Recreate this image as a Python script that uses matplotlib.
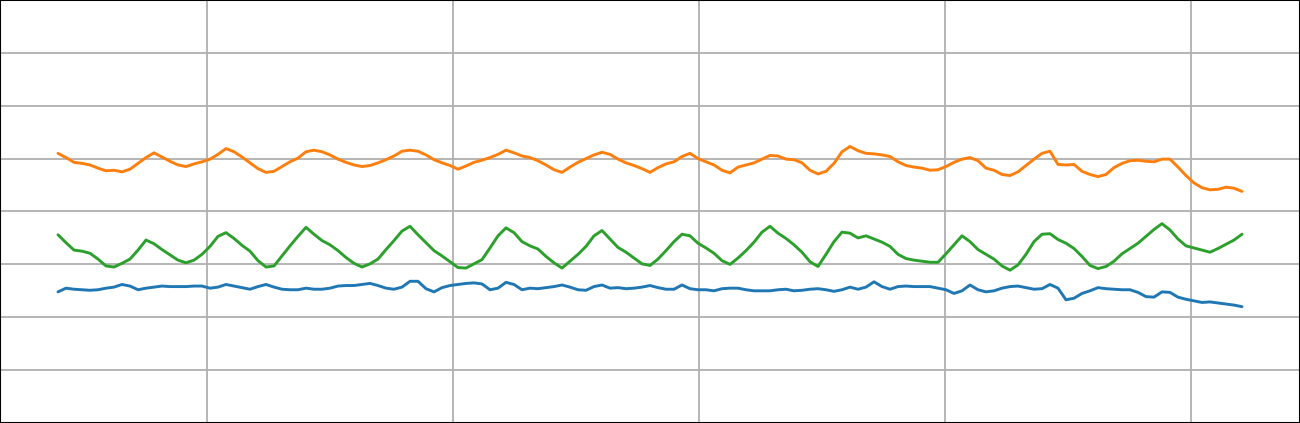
import matplotlib
matplotlib.use("Agg")
import matplotlib.pyplot as plt
import numpy as np

# values, one sample per step
orange = [51.0, 50.2, 49.3, 49.1, 48.8, 48.2, 47.7, 47.8, 47.5, 48.0,
          49.1, 50.2, 51.1, 50.3, 49.5, 48.8, 48.5, 49.0, 49.4, 49.9,
          50.8, 51.9, 51.3, 50.3, 49.2, 48.1, 47.4, 47.6, 48.5, 49.4,
          50.1, 51.3, 51.6, 51.3, 50.7, 49.9, 49.3, 48.8, 48.5, 48.7,
          49.2, 49.8, 50.5, 51.4, 51.6, 51.4, 50.7, 49.8, 49.2, 48.7,
          48.0, 48.6, 49.3, 49.7, 50.2, 50.8, 51.6, 51.1, 50.5, 50.2,
          49.6, 48.8, 47.9, 47.4, 48.4, 49.3, 50.0, 50.7, 51.2, 50.8,
          49.9, 49.2, 48.7, 48.1, 47.4, 48.3, 49.0, 49.4, 50.4, 51.0,
          50.0, 49.4, 48.8, 47.8, 47.3, 48.4, 48.8, 49.2, 49.9, 50.6,
          50.5, 49.9, 49.8, 49.2, 47.8, 47.1, 47.6, 49.1, 51.3, 52.3,
          51.5, 51.0, 50.9, 50.7, 50.4, 49.4, 48.7, 48.4, 48.2, 47.8,
          47.9, 48.5, 49.3, 49.9, 50.2, 49.6, 48.2, 47.8, 47.0, 46.8,
          47.5, 48.7, 49.9, 51.0, 51.4, 48.9, 48.8, 48.9, 47.6, 47.0,
          46.6, 47.0, 48.3, 49.1, 49.6, 49.7, 49.5, 49.4, 49.9, 49.9,
          48.4, 46.8, 45.4, 44.5, 44.1, 44.2, 44.6, 44.4, 43.8]

green = [35.6, 34.1, 32.7, 32.5, 32.1, 31.0, 29.7, 29.5, 30.2, 31.0,
         32.7, 34.6, 33.9, 32.8, 31.8, 30.8, 30.3, 30.8, 31.9, 33.4,
         35.3, 36.0, 34.9, 33.6, 32.5, 30.7, 29.5, 29.7, 31.6, 33.5,
         35.3, 37.0, 35.7, 34.5, 33.7, 32.6, 31.3, 30.2, 29.5, 30.1,
         31.0, 32.8, 34.5, 36.3, 37.2, 35.6, 34.1, 32.6, 31.6, 30.5,
         29.4, 29.3, 30.1, 30.9, 33.1, 35.4, 36.9, 36.0, 34.3, 33.5,
         32.9, 31.5, 30.3, 29.3, 30.6, 31.9, 33.4, 35.4, 36.4, 34.8,
         33.2, 32.3, 31.2, 30.1, 29.8, 31.0, 32.6, 34.3, 35.7, 35.4,
         34.0, 33.1, 32.1, 30.7, 30.0, 31.2, 32.6, 34.2, 36.1, 37.2,
         35.9, 34.9, 33.7, 32.3, 30.5, 29.6, 31.9, 34.3, 36.1, 35.9,
         35.0, 35.4, 34.8, 34.2, 33.4, 31.9, 31.1, 30.8, 30.6, 30.4,
         30.4, 32.0, 33.7, 35.4, 34.3, 32.8, 31.9, 31.0, 29.7, 28.9,
         29.9, 31.9, 34.3, 35.7, 35.8, 34.7, 34.0, 33.0, 31.5, 29.8,
         29.2, 29.6, 30.6, 32.0, 33.0, 34.0, 35.3, 36.6, 37.7, 36.5,
         34.8, 33.5, 33.1, 32.7, 32.3, 33.0, 33.8, 34.6, 35.7]

blue = [24.8, 25.5, 25.3, 25.2, 25.1, 25.2, 25.5, 25.7, 26.2, 25.9,
        25.2, 25.5, 25.7, 25.9, 25.8, 25.8, 25.8, 25.9, 25.9, 25.5,
        25.7, 26.2, 25.9, 25.6, 25.3, 25.8, 26.2, 25.7, 25.3, 25.2,
        25.2, 25.5, 25.3, 25.3, 25.5, 25.9, 26.0, 26.0, 26.2, 26.4,
        26.0, 25.5, 25.3, 25.7, 26.8, 26.8, 25.4, 24.8, 25.6, 26.0,
        26.2, 26.4, 26.5, 26.3, 25.2, 25.5, 26.6, 26.2, 25.2, 25.5,
        25.4, 25.6, 25.8, 26.1, 25.7, 25.2, 25.1, 25.8, 26.1, 25.5,
        25.6, 25.4, 25.5, 25.7, 26.0, 25.6, 25.3, 25.3, 26.1, 25.4,
        25.2, 25.2, 25.0, 25.4, 25.5, 25.5, 25.2, 25.0, 25.0, 25.0,
        25.2, 25.3, 25.0, 25.1, 25.3, 25.4, 25.2, 24.9, 25.2, 25.7,
        25.3, 25.7, 26.7, 25.8, 25.3, 25.8, 25.9, 25.8, 25.8, 25.8,
        25.5, 25.2, 24.5, 25.0, 26.1, 25.2, 24.8, 25.0, 25.5, 25.8,
        25.9, 25.6, 25.3, 25.4, 26.2, 25.5, 23.3, 23.6, 24.5, 25.0,
        25.6, 25.4, 25.3, 25.2, 25.2, 24.7, 23.9, 23.8, 24.8, 24.7,
        23.8, 23.4, 23.1, 22.8, 22.9, 22.7, 22.5, 22.3, 22.0]

series = [blue, orange, green]
colors = ["#1f77b4", "#ff7f0e", "#2ca02c"]

fig = plt.figure(figsize=(13, 4.23), dpi=100)
ax = fig.add_axes([0, 0, 1, 1])

xs = np.arange(len(orange))
for vals, c in zip(series, colors):
    ax.plot(xs, vals, color=c, linewidth=2.1, zorder=3,
            solid_joinstyle="round", solid_capstyle="round")

ax.set_xlim(-7.25, 155.25)
ax.set_ylim(0, 80)
ax.set_xticks(np.arange(18.625, 155, 30.75))
ax.set_yticks(np.arange(10, 80, 10))
ax.grid(True, color="#b0b0b0", linewidth=1.3)
ax.tick_params(length=0, labelbottom=False, labelleft=False)
for s in ax.spines.values():
    s.set_color("black")
    s.set_linewidth(1.5)

fig.savefig("out.png", dpi=100)
